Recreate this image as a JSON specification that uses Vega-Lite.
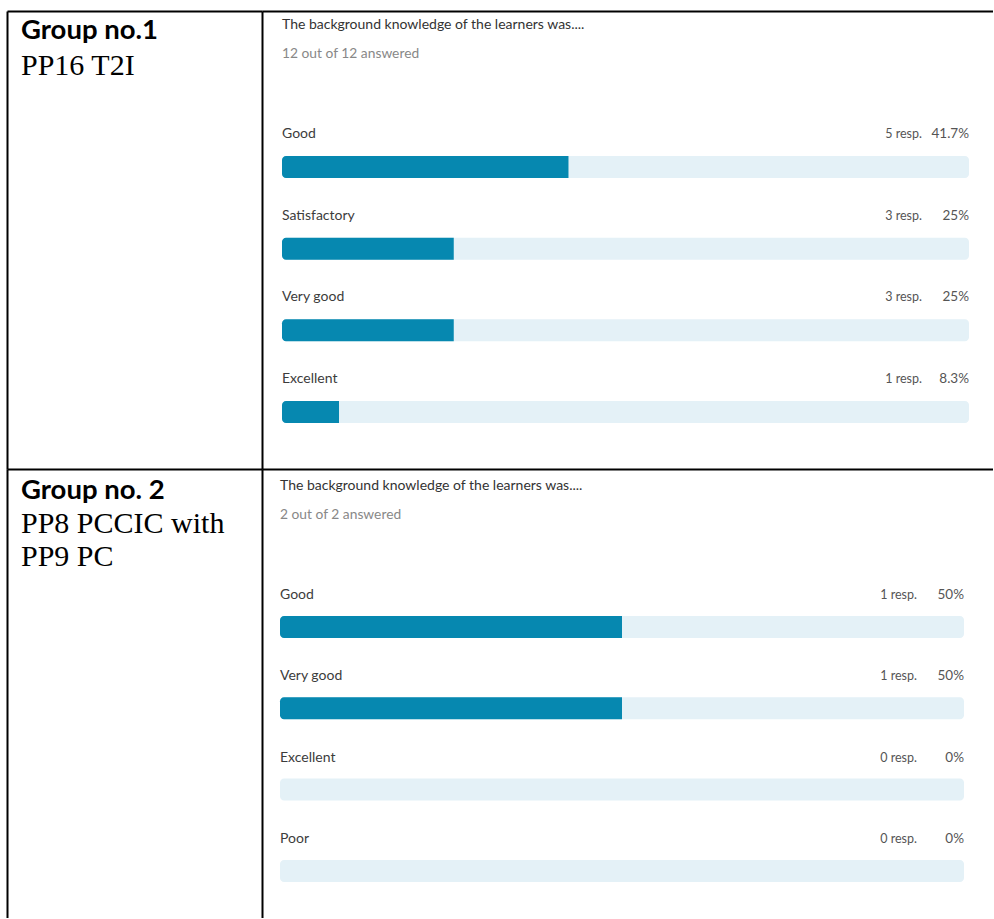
{
  "$schema": "https://vega.github.io/schema/vega-lite/v6.json",
  "padding": {"top": 11, "left": 7, "right": 0, "bottom": 0},
  "background": "white",
  "datasets": {
    "items": [
      {"group": 1, "label": "Good", "pct": 41.7, "resp": "5 resp.", "pctLabel": "41.7%"},
      {"group": 1, "label": "Satisfactory", "pct": 25, "resp": "3 resp.", "pctLabel": "25%"},
      {"group": 1, "label": "Very good", "pct": 25, "resp": "3 resp.", "pctLabel": "25%"},
      {"group": 1, "label": "Excellent", "pct": 8.3, "resp": "1 resp.", "pctLabel": "8.3%"},
      {"group": 2, "label": "Good", "pct": 50, "resp": "1 resp.", "pctLabel": "50%"},
      {"group": 2, "label": "Very good", "pct": 50, "resp": "1 resp.", "pctLabel": "50%"},
      {"group": 2, "label": "Excellent", "pct": 0, "resp": "0 resp.", "pctLabel": "0%"},
      {"group": 2, "label": "Poor", "pct": 0, "resp": "0 resp.", "pctLabel": "0%"}
    ],
    "left": [
      {"group": 1, "line": 0, "text": "Group no.1", "kind": "head"},
      {"group": 1, "line": 1, "text": "PP16 T2I", "kind": "body"},
      {"group": 2, "line": 0, "text": "Group no. 2", "kind": "head"},
      {"group": 2, "line": 1, "text": "PP8 PCCIC with", "kind": "body"},
      {"group": 2, "line": 2, "text": "PP9 PC", "kind": "body"}
    ]
  },
  "columns": 2,
  "align": "each",
  "bounds": "flush",
  "spacing": 0,
  "concat": [
    {
      "width": 255,
      "height": 458,
      "data": {"name": "left"},
      "transform": [{"filter": "datum.group == 1"}],
      "encoding": {
        "x": {"datum": 0, "type": "quantitative", "scale": {"domain": [0, 1], "nice": false, "zero": false}, "axis": {"orient": "top"}},
        "y": {"field": "line", "type": "quantitative", "scale": {"domain": [-0.78, 11.942], "reverse": true, "nice": false, "zero": false}, "axis": {"orient": "left"}}
      },
      "layer": [
        {
          "transform": [{"filter": "datum.kind == 'head'"}],
          "mark": {"type": "text", "align": "left", "baseline": "alphabetic", "dx": 14, "font": "Lato", "fontWeight": "bold", "fontSize": 27.5, "color": "#000000"},
          "encoding": {"text": {"field": "text"}}
        },
        {
          "transform": [{"filter": "datum.kind == 'body'"}],
          "mark": {"type": "text", "align": "left", "baseline": "alphabetic", "dx": 14, "font": "Liberation Serif", "fontSize": 30, "color": "#000000"},
          "encoding": {"text": {"field": "text"}}
        }
      ]
    },
    {
      "width": 731,
      "height": 458,
      "title": {"text": "The background knowledge of the learners was....", "subtitle": "12 out of 12 answered", "anchor": "start", "frame": "group", "offset": -50.1, "dx": 20, "font": "Lato", "fontSize": 14, "fontWeight": "normal", "color": "#333333", "subtitleFont": "Lato", "subtitleFontSize": 13.8, "subtitleColor": "#888888", "subtitlePadding": 15.1},
      "data": {"name": "items"},
      "transform": [{"filter": "datum.group == 1"}],
      "encoding": {
        "y": {"field": "label", "type": "nominal", "sort": null, "scale": {"type": "band", "paddingInner": 0, "paddingOuter": 0.804, "align": 0.877}, "axis": {"orient": "left"}}
      },
      "layer": [
        {
          "mark": {"type": "bar", "height": 22, "color": "#e4f1f7", "cornerRadius": 4},
          "encoding": {
            "x": {"datum": 0, "type": "quantitative", "scale": {"domain": [-2.9112, 103.4934], "nice": false, "zero": false}, "axis": {"orient": "top"}},
            "x2": {"datum": 100}
          }
        },
        {
          "mark": {"type": "bar", "height": 22, "color": "#0688b0", "cornerRadiusTopLeft": 4, "cornerRadiusBottomLeft": 4},
          "encoding": {
            "x": {"field": "pct", "type": "quantitative", "scale": {"domain": [-2.9112, 103.4934], "nice": false, "zero": false}, "axis": {"orient": "top"}},
            "x2": {"datum": 0}
          }
        },
        {
          "mark": {"type": "text", "align": "left", "baseline": "middle", "dy": -33, "font": "Lato", "fontSize": 14, "color": "#3c3c3c"},
          "encoding": {
            "x": {"datum": 0, "type": "quantitative", "scale": {"domain": [-2.9112, 103.4934], "nice": false, "zero": false}, "axis": {"orient": "top"}},
            "text": {"field": "label"}
          }
        },
        {
          "mark": {"type": "text", "align": "right", "baseline": "middle", "dy": -33, "dx": -47, "font": "Lato", "fontSize": 12.5, "color": "#555555"},
          "encoding": {
            "x": {"datum": 100, "type": "quantitative", "scale": {"domain": [-2.9112, 103.4934], "nice": false, "zero": false}, "axis": {"orient": "top"}},
            "text": {"field": "resp"}
          }
        },
        {
          "mark": {"type": "text", "align": "right", "baseline": "middle", "dy": -33, "font": "Lato", "fontSize": 13.5, "color": "#555555"},
          "encoding": {
            "x": {"datum": 100, "type": "quantitative", "scale": {"domain": [-2.9112, 103.4934], "nice": false, "zero": false}, "axis": {"orient": "top"}},
            "text": {"field": "pctLabel"}
          }
        }
      ]
    },
    {
      "width": 255,
      "height": 449,
      "data": {"name": "left"},
      "transform": [{"filter": "datum.group == 2"}],
      "encoding": {
        "x": {"datum": 0, "type": "quantitative", "scale": {"domain": [0, 1], "nice": false, "zero": false}, "axis": {"orient": "top"}},
        "y": {"field": "line", "type": "quantitative", "scale": {"domain": [-0.8915, 12.452], "reverse": true, "nice": false, "zero": false}, "axis": {"orient": "left"}}
      },
      "layer": [
        {
          "transform": [{"filter": "datum.kind == 'head'"}],
          "mark": {"type": "text", "align": "left", "baseline": "alphabetic", "dx": 14, "font": "Lato", "fontWeight": "bold", "fontSize": 27.5, "color": "#000000"},
          "encoding": {"text": {"field": "text"}}
        },
        {
          "transform": [{"filter": "datum.kind == 'body'"}],
          "mark": {"type": "text", "align": "left", "baseline": "alphabetic", "dx": 14, "font": "Liberation Serif", "fontSize": 30, "color": "#000000"},
          "encoding": {"text": {"field": "text"}}
        }
      ]
    },
    {
      "width": 731,
      "height": 449,
      "title": {"text": "The background knowledge of the learners was....", "subtitle": "2 out of 2 answered", "anchor": "start", "frame": "group", "offset": -53.1, "dx": 18, "font": "Lato", "fontSize": 14, "fontWeight": "normal", "color": "#333333", "subtitleFont": "Lato", "subtitleFontSize": 13.8, "subtitleColor": "#888888", "subtitlePadding": 15.1},
      "data": {"name": "items"},
      "transform": [{"filter": "datum.group == 2"}],
      "encoding": {
        "y": {"field": "label", "type": "nominal", "sort": null, "scale": {"type": "band", "paddingInner": 0, "paddingOuter": 0.7614, "align": 0.9479}, "axis": {"orient": "left"}}
      },
      "layer": [
        {
          "mark": {"type": "bar", "height": 22, "color": "#e4f1f7", "cornerRadius": 4},
          "encoding": {
            "x": {"datum": 0, "type": "quantitative", "scale": {"domain": [-2.6316, 104.2398], "nice": false, "zero": false}, "axis": {"orient": "top"}},
            "x2": {"datum": 100}
          }
        },
        {
          "transform": [{"filter": "datum.pct > 0"}],
          "mark": {"type": "bar", "height": 22, "color": "#0688b0", "cornerRadiusTopLeft": 4, "cornerRadiusBottomLeft": 4},
          "encoding": {
            "x": {"field": "pct", "type": "quantitative", "scale": {"domain": [-2.6316, 104.2398], "nice": false, "zero": false}, "axis": {"orient": "top"}},
            "x2": {"datum": 0}
          }
        },
        {
          "mark": {"type": "text", "align": "left", "baseline": "middle", "dy": -32, "font": "Lato", "fontSize": 14, "color": "#3c3c3c"},
          "encoding": {
            "x": {"datum": 0, "type": "quantitative", "scale": {"domain": [-2.6316, 104.2398], "nice": false, "zero": false}, "axis": {"orient": "top"}},
            "text": {"field": "label"}
          }
        },
        {
          "mark": {"type": "text", "align": "right", "baseline": "middle", "dy": -32, "dx": -47, "font": "Lato", "fontSize": 12.5, "color": "#555555"},
          "encoding": {
            "x": {"datum": 100, "type": "quantitative", "scale": {"domain": [-2.6316, 104.2398], "nice": false, "zero": false}, "axis": {"orient": "top"}},
            "text": {"field": "resp"}
          }
        },
        {
          "mark": {"type": "text", "align": "right", "baseline": "middle", "dy": -32, "font": "Lato", "fontSize": 13.5, "color": "#555555"},
          "encoding": {
            "x": {"datum": 100, "type": "quantitative", "scale": {"domain": [-2.6316, 104.2398], "nice": false, "zero": false}, "axis": {"orient": "top"}},
            "text": {"field": "pctLabel"}
          }
        }
      ]
    }
  ],
  "config": {
    "view": {"stroke": null},
    "axis": {"domain": true, "domainColor": "#000000", "domainWidth": 2, "ticks": false, "labels": false, "grid": false, "title": null}
  }
}
